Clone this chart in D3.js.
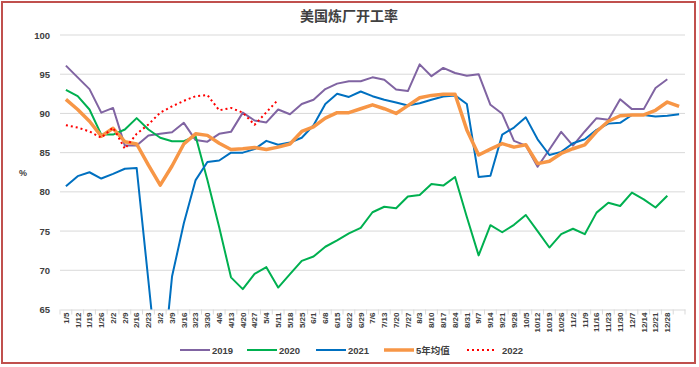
<!DOCTYPE html>
<html><head><meta charset="utf-8">
<script src="https://cdn.jsdelivr.net/npm/d3@7"></script>
<style>html,body{margin:0;padding:0;background:#fff}</style>
</head><body>
<script>
const categories = ["1/5","1/12","1/19","1/26","2/2","2/9","2/16","2/23","3/2","3/9","3/16","3/23","3/30","4/6","4/13","4/20","4/27","5/4","5/11","5/18","5/25","6/1","6/8","6/15","6/22","6/29","7/6","7/13","7/20","7/27","8/3","8/10","8/17","8/24","8/31","9/7","9/14","9/21","9/28","10/5","10/12","10/19","10/26","11/2","11/9","11/16","11/23","11/30","12/7","12/14","12/21","12/28",""];
const s2019 = [96.1,94.6,93.1,90.1,90.7,85.9,85.9,87.2,87.4,87.6,88.8,86.6,86.4,87.4,87.65,90.1,89.1,88.85,90.5,89.9,91.2,91.75,93.1,93.8,94.1,94.1,94.6,94.3,93.05,92.85,96.25,94.75,95.8,95.15,94.8,95.0,91.1,89.95,86.5,85.9,83.2,85.4,87.65,85.9,87.7,89.4,89.2,91.8,90.55,90.55,93.25,94.35];
const s2020 = [93.0,92.2,90.5,87.3,87.3,87.95,89.4,87.95,86.9,86.45,86.45,87.1,81.5,75.5,69.1,67.6,69.55,70.4,67.8,69.5,71.2,71.75,73.0,73.8,74.7,75.4,77.4,78.1,77.9,79.4,79.6,81.0,80.8,81.9,76.8,71.9,75.75,74.85,75.8,77.05,75.0,72.9,74.6,75.3,74.6,77.35,78.6,78.2,79.9,79.05,78.0,79.5];
const s2021 = [80.7,82.0,82.5,81.7,82.3,82.95,83.05,68.6,54.0,69.2,76.0,81.5,83.8,84.0,85.0,85.0,85.45,86.5,86.0,86.3,86.9,88.5,91.2,92.5,92.1,92.8,92.2,91.75,91.4,91.0,91.3,91.75,92.15,92.3,91.2,81.9,82.05,87.3,88.2,89.5,86.7,84.7,85.1,86.2,86.7,87.9,88.7,88.8,89.8,89.8,89.6,89.7,89.9];
const sAvg5 = [91.8,90.5,89.0,87.1,88.1,86.4,86.1,83.4,80.85,83.3,86.1,87.4,87.2,86.2,85.4,85.5,85.65,85.4,85.7,86.1,87.7,88.3,89.4,90.1,90.1,90.6,91.1,90.6,90.0,91.0,92.0,92.3,92.45,92.45,87.9,84.7,85.45,86.15,85.7,86.0,83.6,83.9,84.9,85.5,86.0,87.7,89.0,89.7,89.8,89.8,90.4,91.45,90.9];
const s2022 = [88.5,88.2,87.7,86.9,88.2,85.5,87.4,88.6,90.1,90.9,91.6,92.2,92.35,90.4,90.7,90.1,88.55,90.15,91.75];
const yTicks = [65,70,75,80,85,90,95,100];
const seriesNames = ["2019","2020","2021","5年均值","2022"];
const title = "美国炼厂开工率";
const yTitle = "%";

const series = [
  {name:seriesNames[0], data:s2019, color:"#8064A2", width:2, dash:null},
  {name:seriesNames[1], data:s2020, color:"#00B050", width:2, dash:null},
  {name:seriesNames[2], data:s2021, color:"#0070C0", width:2, dash:null},
  {name:seriesNames[3], data:sAvg5, color:"#F79646", width:3.5, dash:null},
  {name:seriesNames[4], data:s2022, color:"#FF0000", width:2, dash:"2,3"}
];

const W=699, H=367;
const L=60, R=685, T=35, B=309.5;
const svg = d3.select("body").append("svg").attr("width",W).attr("height",H)
  .style("font-family","'Liberation Sans', Arial, sans-serif");
svg.append("rect").attr("x",0).attr("y",0).attr("width",W).attr("height",H).attr("fill","#fff");
svg.append("rect").attr("x",2).attr("y",2).attr("width",693).attr("height",361)
  .attr("fill","none").attr("stroke","#C0504D").attr("stroke-width",2);

const x = d3.scaleBand().domain(d3.range(categories.length)).range([L,R]).paddingInner(0).paddingOuter(0);
const cx = i => x(i) + x.bandwidth()/2;
const y = d3.scaleLinear().domain([65,100]).range([B,T]);

// gridlines
svg.append("g").selectAll("line").data(yTicks.filter(v=>v>65)).join("line")
  .attr("x1",L).attr("x2",R).attr("y1",d=>y(d)).attr("y2",d=>y(d))
  .attr("stroke","#D9D9D9").attr("stroke-width",1);

// y axis labels
const yAxis = d3.axisLeft(y).tickValues(yTicks).tickSize(0).tickPadding(10).tickFormat(d3.format("d"));
const gy = svg.append("g").attr("transform",`translate(${L},0)`).call(yAxis);
gy.select(".domain").remove();
gy.selectAll("text").attr("font-size","9.5px").attr("font-weight","bold").attr("fill","#404040")
  .style("font-family","'Liberation Sans', Arial, sans-serif");

// x axis
const xAxis = d3.axisBottom(x).tickSize(0).tickFormat(i=>categories[i]);
const gx = svg.append("g").attr("transform",`translate(0,${B})`).call(xAxis);
gx.select(".domain").attr("stroke","#D9D9D9").attr("stroke-width",1);
gx.selectAll(".tick text")
  .attr("transform","rotate(-90)")
  .attr("text-anchor","end")
  .attr("x",-3).attr("y",0).attr("dy","0.35em")
  .attr("font-size","8px").attr("font-weight","bold").attr("fill","#404040")
  .style("font-family","'Liberation Sans', Arial, sans-serif");
// boundary ticks
const bounds = d3.range(categories.length+1).map(i => i<categories.length ? x(i) : R);
svg.append("g").selectAll("line").data(bounds).join("line")
  .attr("x1",d=>d).attr("x2",d=>d).attr("y1",B).attr("y2",B+5)
  .attr("stroke","#D9D9D9").attr("stroke-width",1);

// clip
svg.append("clipPath").attr("id","plotclip").append("rect")
  .attr("x",L).attr("y",T-5).attr("width",R-L).attr("height",B-T+5);

const line = d3.line().x((d,i)=>cx(i)).y(d=>y(d));
const gl = svg.append("g").attr("clip-path","url(#plotclip)");
series.forEach(s=>{
  gl.append("path").datum(s.data).attr("d",line)
    .attr("fill","none").attr("stroke",s.color).attr("stroke-width",s.width)
    .attr("stroke-linejoin","round")
    .attr("stroke-dasharray",s.dash);
});

// title
svg.append("text").attr("x",349).attr("y",21).attr("text-anchor","middle")
  .attr("font-size","14px").attr("font-weight","bold").attr("fill","#404040")
  .style("font-family","'Noto Sans CJK SC', sans-serif").text(title);

// y title
svg.append("text").attr("x",23).attr("y",176).attr("text-anchor","middle")
  .attr("font-size","9px").attr("font-weight","bold").attr("fill","#404040").text(yTitle);

// legend
const legendX = [180,247,316,384,467];
const lg = svg.append("g");
series.forEach((s,k)=>{
  const lx = legendX[k];
  lg.append("line").attr("x1",lx).attr("x2",lx+30).attr("y1",350).attr("y2",350)
    .attr("stroke",s.color).attr("stroke-width",s.width).attr("stroke-dasharray",s.dash);
  lg.append("text").attr("x",lx+ (s.dash?35:32)).attr("y",353.5)
    .attr("font-size","9.5px").attr("font-weight","bold").attr("fill","#404040")
    .style("font-family","'Liberation Sans','Noto Sans CJK SC', sans-serif").text(s.name);
});
</script>
</body></html>
